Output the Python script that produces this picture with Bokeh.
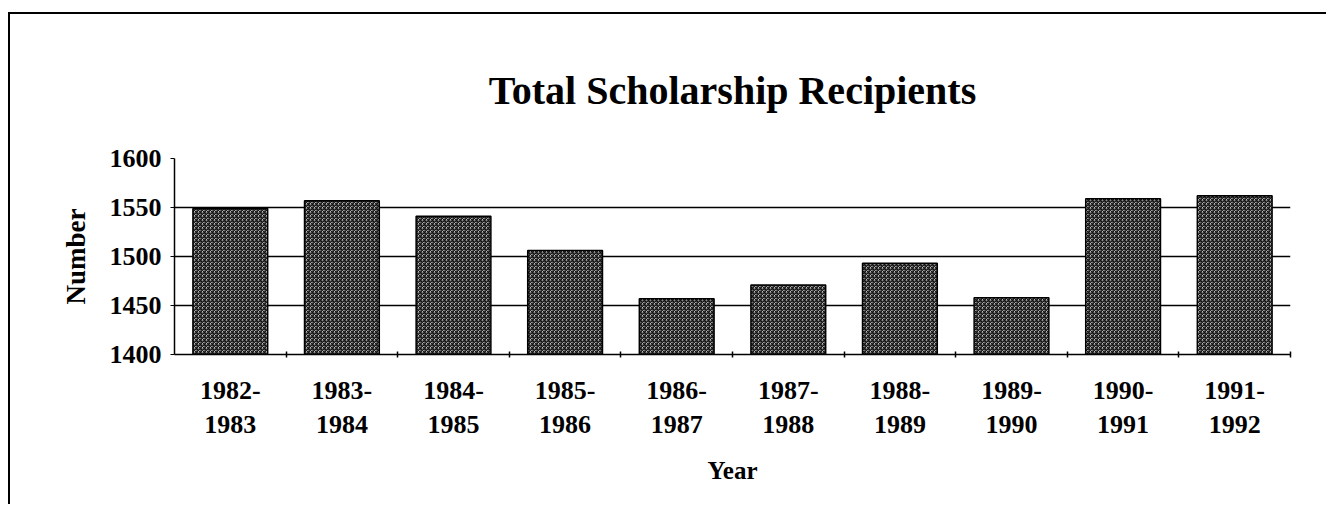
from bokeh.plotting import figure
from bokeh.models import Range1d, LinearAxis, FixedTicker
from bokeh.embed import file_html
from bokeh.resources import INLINE

title_text = "Total Scholarship Recipients"
years = ["1982-\n1983", "1983-\n1984", "1984-\n1985", "1985-\n1986", "1986-\n1987",
         "1987-\n1988", "1988-\n1989", "1989-\n1990", "1990-\n1991", "1991-\n1992"]
recipients = [1549, 1557, 1541, 1506, 1457, 1471, 1493, 1458, 1559, 1562]
y_ticks = [1400, 1450, 1500, 1550, 1600]

n = len(years)
centers = [i + 0.5 for i in range(n)]
boundaries = list(range(1, n + 1))

FONT = "Liberation Serif"

p = figure(x_range=Range1d(0, n), y_range=Range1d(1400, 1600),
           frame_width=1116, frame_height=196,
           min_border_left=164, min_border_top=144, min_border_right=36, min_border_bottom=150,
           output_backend="svg", toolbar_location=None,
           title=title_text)
p.styles = {"border-top": "2px solid black", "border-left": "2px solid black",
            "margin-top": "12px", "margin-left": "8px"}

p.title.align = "center"
p.title.text_font = FONT
p.title.text_font_size = "40px"
p.title.text_font_style = "bold"
p.title.text_color = "black"
p.title.standoff = 92

p.vbar(x=centers, top=recipients, bottom=1400, width=0.67,
       fill_color="white", line_color="black", line_width=1.5,
       hatch_pattern="criss_cross", hatch_color="#111111", hatch_scale=4, hatch_weight=1.2)

p.outline_line_color = None
p.background_fill_color = "white"
p.border_fill_color = "white"

p.xgrid.grid_line_color = None
p.ygrid.grid_line_color = "black"
p.ygrid.grid_line_width = 1.5
p.ygrid.ticker = FixedTicker(ticks=y_ticks)

ya = p.yaxis[0]
ya.ticker = FixedTicker(ticks=y_ticks)
ya.axis_line_color = "black"
ya.axis_line_width = 1.5
ya.major_tick_out = 4
ya.major_tick_in = 0
ya.minor_tick_line_color = None
ya.major_label_text_font = FONT
ya.major_label_text_font_size = "26px"
ya.major_label_text_font_style = "bold"
ya.major_label_text_color = "black"
ya.major_label_standoff = 9
ya.axis_label = "Number"
ya.axis_label_text_font = FONT
ya.axis_label_text_font_size = "27px"
ya.axis_label_text_font_style = "bold"
ya.axis_label_text_color = "black"
ya.axis_label_standoff = 16

# boundary tick axis (nearest the frame)
tick_axis = p.xaxis[0]
tick_axis.ticker = FixedTicker(ticks=boundaries)
tick_axis.major_label_overrides = {b: "" for b in boundaries}
tick_axis.major_tick_in = 3
tick_axis.major_tick_out = 3
tick_axis.major_tick_line_width = 1.5
tick_axis.axis_line_color = "black"
tick_axis.axis_line_width = 1.5
tick_axis.major_label_standoff = 0
tick_axis.minor_tick_line_color = None

# category label axis
xa = LinearAxis(ticker=FixedTicker(ticks=centers),
                major_label_overrides={c: y for c, y in zip(centers, years)})
xa.axis_line_color = None
xa.major_tick_line_color = None
xa.minor_tick_line_color = None
xa.major_label_text_font = FONT
xa.major_label_text_font_size = "26px"
xa.major_label_text_font_style = "bold"
xa.major_label_text_color = "black"
xa.major_label_standoff = 12
xa.axis_label = "Year"
xa.axis_label_text_font = FONT
xa.axis_label_text_font_size = "25px"
xa.axis_label_text_font_style = "bold"
xa.axis_label_text_color = "black"
xa.axis_label_standoff = 15
p.add_layout(xa, "below")

open("out.html", "w").write(file_html(p, INLINE))
